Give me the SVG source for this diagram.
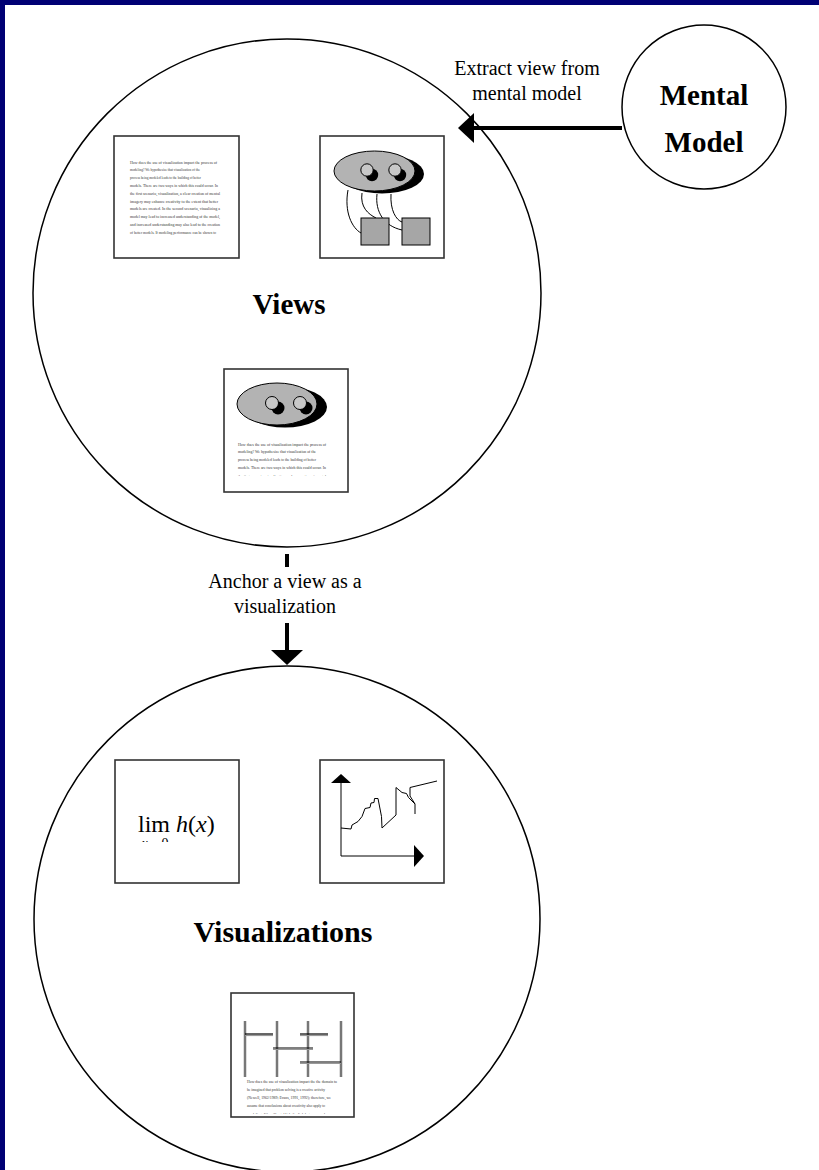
<svg xmlns="http://www.w3.org/2000/svg" width="819" height="1170" viewBox="0 0 819 1170">
<style>
.big{font-family:"Liberation Serif",serif;font-weight:bold;font-size:29px;fill:#000;text-anchor:middle}
.lbl{font-family:"Liberation Serif",serif;font-size:20px;fill:#000;text-anchor:middle}
.tiny{font-family:"Liberation Serif",serif;font-size:4.2px;fill:#333}
.circ{fill:none;stroke:#000;stroke-width:1.5}
.box{fill:#fff;stroke:#333;stroke-width:1.6}
.ln{fill:none;stroke:#000;stroke-width:1}
.conn{stroke:#000;stroke-width:4;fill:none}
.sq{fill:#a6a6a6;stroke:#000;stroke-width:1}
.gv{stroke:#777;stroke-width:2.5}
.hl{stroke:#000;stroke-width:1.2}
.hs{stroke:#999;stroke-width:1.2}
</style>
<defs>
<clipPath id="clipV3"><rect x="224" y="369" width="124" height="107"/></clipPath>
<clipPath id="clipZ3"><rect x="231" y="993" width="123" height="121"/></clipPath>
<clipPath id="clipLim"><rect x="115" y="760" width="124" height="82"/></clipPath>
</defs>
<rect x="0" y="0" width="819" height="1170" fill="#fff"/>
<rect x="0" y="0" width="819" height="5" fill="#000074"/>
<rect x="0" y="0" width="5" height="1170" fill="#000074"/>

<g id="views">
<circle class="circ" cx="287" cy="293" r="254"/>
<text class="big" x="289" y="314">Views</text>
<g id="view-text">
<rect class="box" x="114" y="136" width="125" height="122"/>
<text class="tiny" x="130" y="163.5" textLength="87" lengthAdjust="spacingAndGlyphs">How does the use of visualization impact the process of</text>
<text class="tiny" x="130" y="171.3" textLength="70" lengthAdjust="spacingAndGlyphs">modeling? We hypothesize that visualization of the</text>
<text class="tiny" x="130" y="179.1" textLength="71" lengthAdjust="spacingAndGlyphs">process being modeled leads to the building of better</text>
<text class="tiny" x="130" y="186.9" textLength="88" lengthAdjust="spacingAndGlyphs">models. There are two ways in which this could occur. In</text>
<text class="tiny" x="130" y="194.7" textLength="90" lengthAdjust="spacingAndGlyphs">the first scenario, visualization, a clear creation of mental</text>
<text class="tiny" x="130" y="202.5" textLength="88" lengthAdjust="spacingAndGlyphs">imagery may enhance creativity to the extent that better</text>
<text class="tiny" x="130" y="210.3" textLength="90" lengthAdjust="spacingAndGlyphs">models are created. In the second scenario, visualizing a</text>
<text class="tiny" x="130" y="218.1" textLength="90" lengthAdjust="spacingAndGlyphs">model may lead to increased understanding of the model,</text>
<text class="tiny" x="130" y="225.9" textLength="90" lengthAdjust="spacingAndGlyphs">and increased understanding may also lead to the creation</text>
<text class="tiny" x="130" y="233.7" textLength="86" lengthAdjust="spacingAndGlyphs">of better models. If modeling performance can be shown to</text>
</g>
<g id="view-diagram">
<rect class="box" x="320" y="136" width="124" height="122"/>
<ellipse cx="382" cy="174" rx="42" ry="19.5" fill="#000"/>
<ellipse cx="374.5" cy="171" rx="40.5" ry="20" fill="#b3b3b3" stroke="#000" stroke-width="1"/>
<circle cx="372" cy="175" r="6.2" fill="#000"/>
<circle cx="367" cy="170" r="6.2" fill="#c8c8c8" stroke="#000" stroke-width="1"/>
<circle cx="400" cy="175" r="6.2" fill="#000"/>
<circle cx="395" cy="170" r="6.2" fill="#c8c8c8" stroke="#000" stroke-width="1"/>
<path class="ln" d="M348,190 C344,212 352,228 361,233"/>
<path class="ln" d="M362,193 C360,207 368,214 376,218"/>
<path class="ln" d="M377,194 C375,212 384,226 402,230"/>
<path class="ln" d="M391,194 C390,210 396,220 402,222"/>
<rect class="sq" x="361" y="218" width="28" height="27"/>
<rect class="sq" x="402" y="218" width="28" height="27"/>
</g>
<g id="view-combined">
<rect class="box" x="224" y="369" width="124" height="123"/>
<ellipse cx="285" cy="407" rx="42" ry="20.5" fill="#000"/>
<ellipse cx="277" cy="404" rx="40" ry="21" fill="#b3b3b3" stroke="#000" stroke-width="1"/>
<circle cx="278" cy="408" r="6.5" fill="#000"/>
<circle cx="272" cy="403" r="6.5" fill="#c8c8c8" stroke="#000" stroke-width="1"/>
<circle cx="306" cy="408" r="6.5" fill="#000"/>
<circle cx="300" cy="403" r="6.5" fill="#c8c8c8" stroke="#000" stroke-width="1"/>
<g clip-path="url(#clipV3)">
<text class="tiny" x="238" y="445.5" textLength="88" lengthAdjust="spacingAndGlyphs">How does the use of visualization impact the process of</text>
<text class="tiny" x="238" y="453.2" textLength="78" lengthAdjust="spacingAndGlyphs">modeling? We hypothesize that visualization of the</text>
<text class="tiny" x="238" y="460.9" textLength="78" lengthAdjust="spacingAndGlyphs">process being modeled leads to the building of better</text>
<text class="tiny" x="238" y="468.6" textLength="88" lengthAdjust="spacingAndGlyphs">models. There are two ways in which this could occur. In</text>
<text class="tiny" x="238" y="477.5" textLength="88" lengthAdjust="spacingAndGlyphs">the first scenario, visualization, a clear creation of mental</text>
</g>
</g>
</g>

<g id="visualizations">
<circle class="circ" cx="287" cy="919" r="253"/>
<text class="big" x="283" y="942" style="font-size:30px">Visualizations</text>
<g id="vis-formula">
<rect class="box" x="115" y="760" width="124" height="123"/>
<text x="138" y="832" style="font-family:'Liberation Serif',serif;font-size:24px;fill:#000">lim <tspan font-style="italic">h</tspan>(<tspan font-style="italic">x</tspan>)</text>
<g clip-path="url(#clipLim)">
<text x="155" y="848" style="font-family:'Liberation Serif',serif;font-size:14px;fill:#000;text-anchor:middle"><tspan font-style="italic">x</tspan>→0</text>
</g>
</g>
<g id="vis-chart">
<rect class="box" x="320" y="760" width="124" height="123"/>
<line class="ln" x1="341" y1="783" x2="341" y2="856" stroke-width="1.5"/>
<line class="ln" x1="341" y1="856" x2="414" y2="856" stroke-width="1.5"/>
<polygon points="331,783 351,783 341,774" fill="#000"/>
<polygon points="414,845 414,867 424,856" fill="#000"/>
<polyline class="ln" points="341,828 351,829 352,825 358,821.5 362,816.5 365,808.5 370,807.5 371,803 374,802.5 374.5,798.5 378,798.5 381.5,816.5 382,828 396,815 396,787.5 402,792.5 406.5,793.5 408.5,797.5 415,804 415,814"/>
<polyline class="ln" points="415,804 410,796 410,787.5 437,781"/>
</g>
<g id="vis-combined">
<rect class="box" x="231" y="993" width="123" height="124"/>
<line class="gv" x1="245" y1="1021" x2="245" y2="1077"/>
<line class="gv" x1="277" y1="1021" x2="277" y2="1077"/>
<line class="gv" x1="308" y1="1021" x2="308" y2="1077"/>
<line class="gv" x1="341" y1="1021" x2="341" y2="1077"/>
<line class="hs" x1="245" y1="1035.5" x2="273" y2="1035.5"/>
<line class="hl" x1="245" y1="1034" x2="273" y2="1034"/>
<line class="hs" x1="273" y1="1049.5" x2="313" y2="1049.5"/>
<line class="hl" x1="273" y1="1048" x2="313" y2="1048"/>
<line class="hs" x1="300" y1="1035.5" x2="328" y2="1035.5"/>
<line class="hl" x1="300" y1="1034" x2="328" y2="1034"/>
<line class="hs" x1="300" y1="1063.5" x2="341" y2="1063.5"/>
<line class="hl" x1="300" y1="1062" x2="341" y2="1062"/>
<g clip-path="url(#clipZ3)">
<text class="tiny" x="247" y="1083" textLength="90" lengthAdjust="spacingAndGlyphs">How does the use of visualization impact the the domain to</text>
<text class="tiny" x="247" y="1091" textLength="78" lengthAdjust="spacingAndGlyphs">be imagined that problem solving is a creative activity</text>
<text class="tiny" x="247" y="1099" textLength="84" lengthAdjust="spacingAndGlyphs">(Newell, 1962/1989; Evans, 1991, 1992); therefore, we</text>
<text class="tiny" x="247" y="1107" textLength="78" lengthAdjust="spacingAndGlyphs">assume that conclusions about creativity also apply to</text>
<text class="tiny" x="247" y="1115.5" textLength="78" lengthAdjust="spacingAndGlyphs">modeling. We will establish the link between and</text>
</g>
</g>
</g>

<g id="mental-model">
<circle class="circ" cx="704" cy="107" r="82"/>
<text class="big" x="704" y="105">Mental</text>
<text class="big" x="704" y="152">Model</text>
</g>

<g id="connectors">
<line class="conn" x1="622" y1="128" x2="470" y2="128"/>
<polygon points="458,128 474,113 474,143" fill="#000"/>
<text class="lbl" x="527" y="75">Extract view from</text>
<text class="lbl" x="527" y="100">mental model</text>
<line class="conn" x1="287" y1="554" x2="287" y2="567"/>
<text class="lbl" x="285" y="588">Anchor a view as a</text>
<text class="lbl" x="285" y="613">visualization</text>
<line class="conn" x1="287" y1="623" x2="287" y2="652"/>
<polygon points="271,650 303,650 287,665" fill="#000"/>
</g>
</svg>
